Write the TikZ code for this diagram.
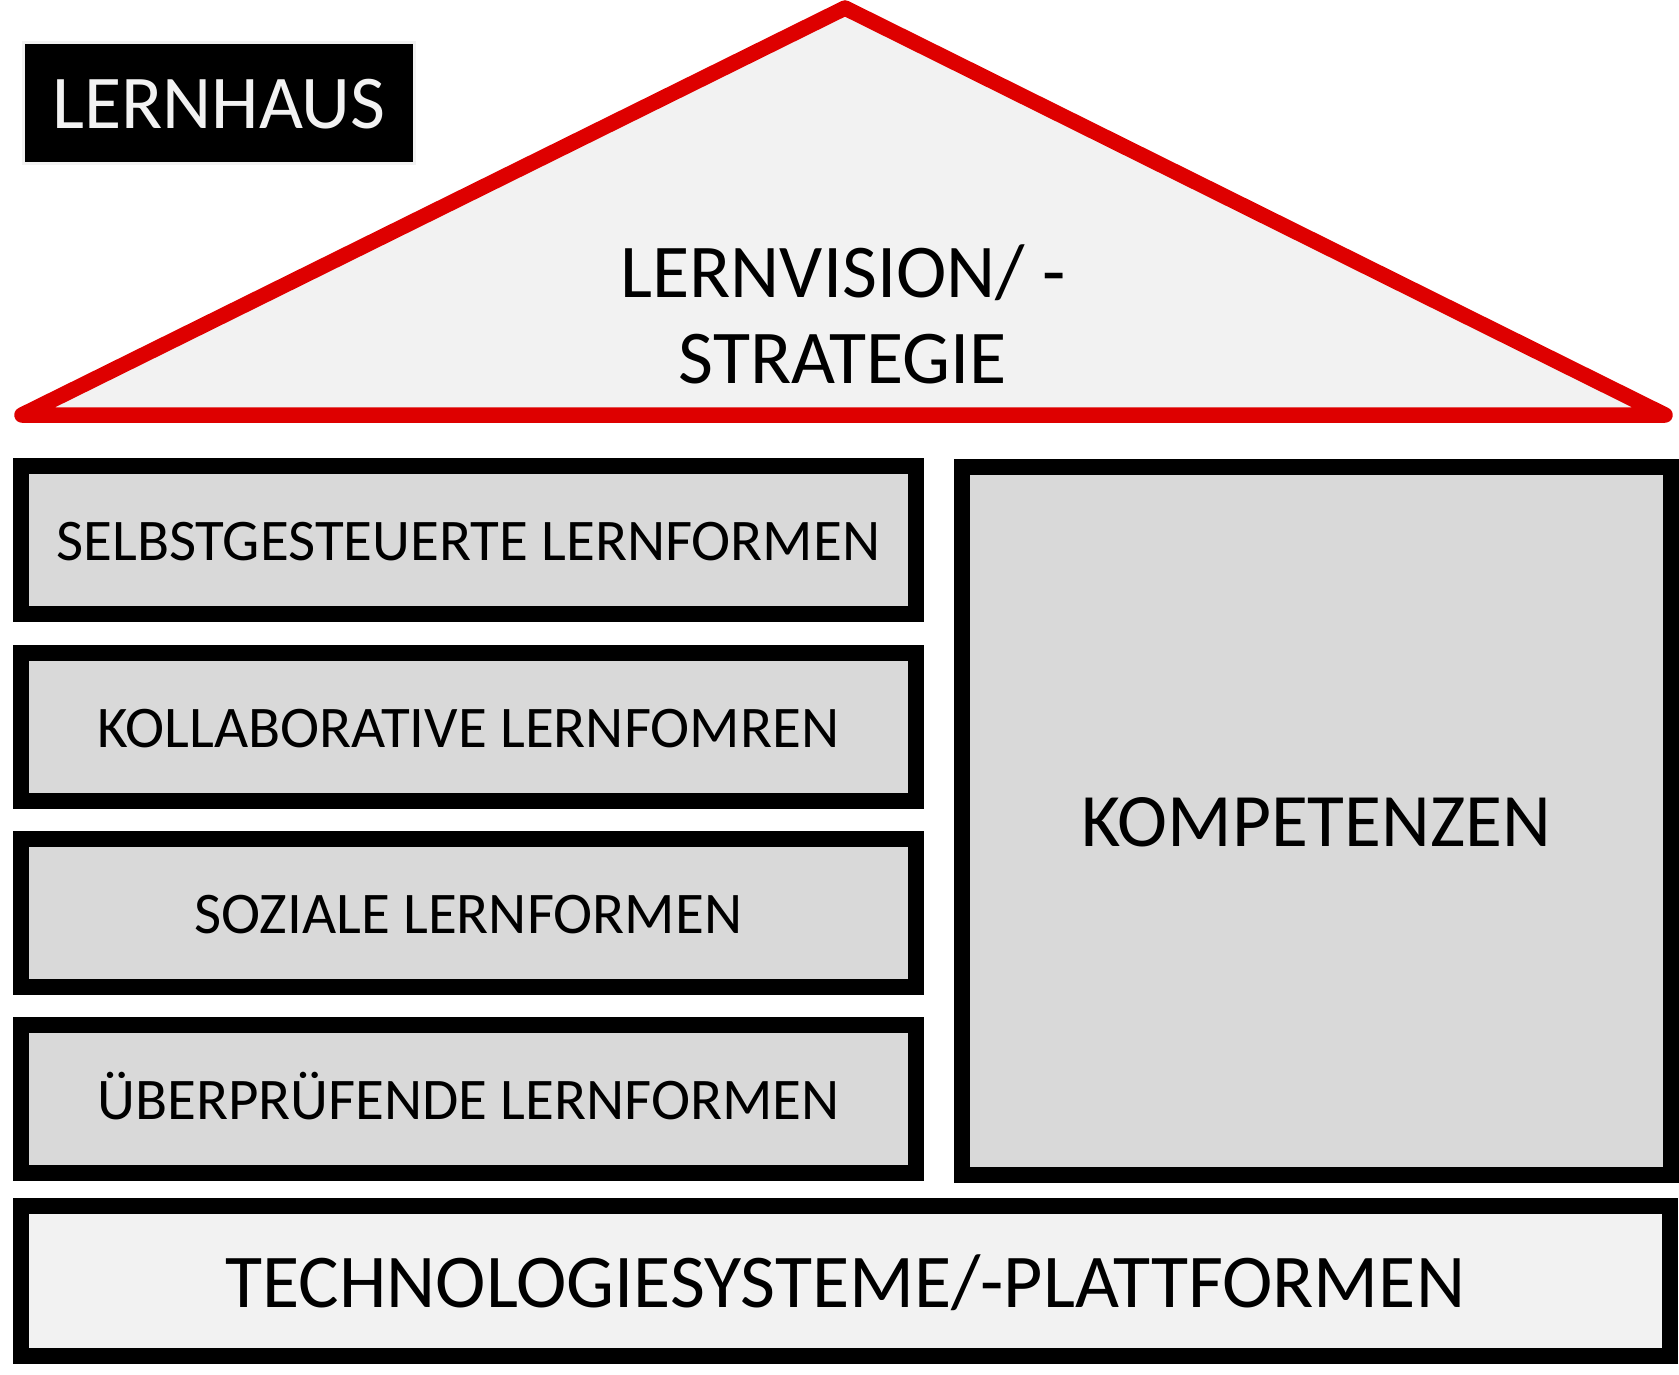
\documentclass[tikz,border=0pt]{standalone}
\usepackage{fontspec}
\setmainfont{Carlito}
\definecolor{roofred}{RGB}{222,0,0}
\definecolor{boxgray}{RGB}{217,217,217}
\definecolor{lightfill}{RGB}{242,242,242}
\begin{document}
\begin{tikzpicture}[x=1pt,y=-1pt,
  blk/.style={draw=black,line width=16pt,inner sep=0pt,outer sep=0pt},
  formbox/.style={blk,fill=boxgray,minimum width=895pt,minimum height=148pt,
     font=\fontsize{59}{70}\selectfont,text height=40pt,text depth=0pt},
]
\useasboundingbox (0,0) rectangle (1679,1375);
% title
\node[fill=black,draw=lightfill,line width=3pt,minimum width=391pt,minimum height=121pt,
  inner sep=0pt,text=lightfill,font=\fontsize{76}{80}\selectfont,text height=51pt,text depth=0pt]
  (title) at (219,103) {LERNHAUS};
% roof
\draw[roofred,line width=15.5pt,fill=lightfill,line join=round]
  (22,415) -- (845,8) -- (1665,415) -- cycle;
\node[align=center,font=\fontsize{76}{86}\selectfont,inner sep=0pt] (vision) at (843,314)
  {LERNVISION/ -\\STRATEGIE};
% left boxes
\node[formbox] (s1) at (468.5,540) {SELBSTGESTEUERTE LERNFORMEN};
\node[formbox] (s2) at (468.5,727) {KOLLABORATIVE LERNFOMREN};
\node[formbox] (s3) at (468.5,913) {SOZIALE LERNFORMEN};
\node[formbox] (s4) at (468.5,1099) {ÜBERPRÜFENDE LERNFORMEN};
% right box
\node[blk,fill=boxgray,minimum width=709pt,minimum height=708pt,
  font=\fontsize{75.5}{90}\selectfont,text height=51pt,text depth=0pt] (komp) at (1316.5,821) {KOMPETENZEN};
% base
\node[blk,fill=lightfill,minimum width=1649pt,minimum height=150pt,
  font=\fontsize{76}{90}\selectfont,text height=52pt,text depth=0pt] (tech) at (845.5,1281) {TECHNOLOGIESYSTEME/-PLATTFORMEN};
\end{tikzpicture}
\end{document}
